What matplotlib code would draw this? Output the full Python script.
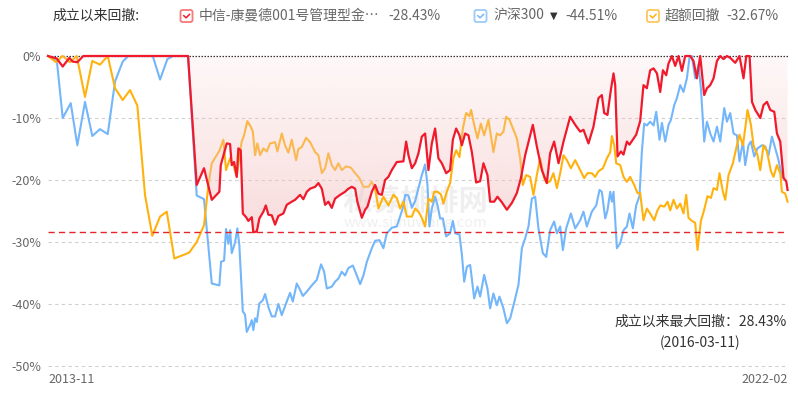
import matplotlib
matplotlib.use('Agg')
import matplotlib.pyplot as plt
import numpy as np
from matplotlib.patches import FancyBboxPatch, Polygon
from matplotlib.lines import Line2D
from matplotlib.transforms import IdentityTransform

plt.rcParams['font.family'] = ['Noto Sans CJK SC', 'DejaVu Sans']

# ---------------- data ----------------
title_label = '成立以来回撤:'
series_names = ['中信-康曼德001号管理型金…', '沪深300', '超额回撤']
series_maxdd = ['-28.43%', '-44.51%', '-32.67%']
x_labels = ['2013-11', '2022-02']
y_ticks = [0, -10, -20, -30, -40, -50]
max_dd_text = '成立以来最大回撤：28.43%'
max_dd_date = '(2016-03-11)'

fund_t = [2013.830, 2013.928, 2013.995, 2014.069, 2014.107, 2014.159, 2014.226, 2015.401,
          2015.498, 2015.580, 2015.667, 2015.752, 2015.768, 2015.835, 2015.872, 2015.891,
          2015.917, 2015.947, 2015.965, 2015.992, 2016.015, 2016.052, 2016.077, 2016.116,
          2016.133, 2016.172, 2016.201, 2016.246, 2016.273, 2016.302, 2016.340, 2016.377,
          2016.414, 2016.470, 2016.508, 2016.564, 2016.601, 2016.657, 2016.694, 2016.733,
          2016.770, 2016.826, 2016.863, 2016.901, 2016.938, 2016.975, 2017.013, 2017.050,
          2017.106, 2017.162, 2017.199, 2017.238, 2017.275, 2017.300, 2017.350, 2017.387,
          2017.413, 2017.462, 2017.499, 2017.536, 2017.574, 2017.611, 2017.648, 2017.686,
          2017.742, 2017.816, 2017.847, 2017.873, 2017.911, 2017.948, 2017.985, 2018.023,
          2018.060, 2018.097, 2018.135, 2018.172, 2018.209, 2018.247, 2018.296, 2018.340,
          2018.371, 2018.408, 2018.445, 2018.472, 2018.509, 2018.546, 2018.584, 2018.632,
          2018.677, 2018.714, 2018.759, 2018.789, 2018.834, 2018.871, 2018.921, 2018.977,
          2019.033, 2019.089, 2019.134, 2019.182, 2019.238, 2019.268, 2019.313, 2019.369,
          2019.425, 2019.462, 2019.507, 2019.556, 2019.612, 2019.687, 2019.743, 2019.799,
          2019.836, 2019.892, 2019.948, 2020.004, 2020.042, 2020.068, 2020.105, 2020.144,
          2020.173, 2020.192, 2020.218, 2020.256, 2020.285, 2020.323, 2020.352, 2020.390,
          2020.427, 2020.472, 2020.509, 2020.547, 2020.584, 2020.622, 2020.660, 2020.697,
          2020.727, 2020.764, 2020.790, 2020.828, 2020.865, 2020.902, 2020.940, 2020.977,
          2021.033, 2021.070, 2021.108, 2021.145, 2021.190, 2021.221, 2021.258, 2021.295,
          2021.333, 2021.370, 2021.407, 2021.445, 2021.482, 2021.538, 2021.586, 2021.631,
          2021.662, 2021.699, 2021.726, 2021.763, 2021.819, 2021.856, 2021.894, 2021.931,
          2021.976, 2022.006, 2022.043, 2022.080, 2022.110, 2022.125]
fund_dd = [0, -0.4, -1.7, -0.3, -0.9, -1.0, 0, 0,
           -20.8, -18.1, -23.2, -21.9, -17.6, -14.1, -14.2, -17.6,
           -17.1, -19.5, -14.9, -15.2, -25.4, -26.0, -26.6, -26.0,
           -28.43, -28.3, -26.2, -25.1, -24.1, -25.6, -25.7, -27.2,
           -25.8, -25.4, -24.0, -23.5, -23.2, -22.4, -23.1, -21.9,
           -21.4, -21.1, -20.5, -21.4, -24.0, -23.5, -24.5, -23.0,
           -22.4, -21.9, -21.4, -21.1, -21.4, -23.5, -26.1, -24.8,
           -24.3, -21.9, -20.8, -22.2, -22.4, -20.0, -19.5, -18.4,
           -17.1, -17.0, -13.8, -16.0, -18.1, -17.3, -15.7, -13.0,
           -12.5, -18.4, -14.1, -11.7, -16.5, -17.3, -18.9, -18.4,
           -13.5, -11.7, -12.8, -14.4, -12.5, -12.8, -15.5, -20.4,
           -20.2, -17.3, -19.2, -23.5, -23.5, -22.7, -23.6, -24.8,
           -23.7, -22.1, -19.7, -16.0, -12.8, -11.1, -14.6, -18.4,
           -20.5, -15.7, -13.8, -17.3, -13.8, -9.8, -11.1, -12.2,
           -11.9, -14.1, -11.4, -6.8, -6.3, -9.2, -9.5, -5.4,
           -2.8, -4.7, -16.2, -15.4, -15.9, -13.8, -14.3, -13.5,
           -12.7, -10.5, -4.7, -5.2, -2.3, -2.0, -2.8, -5.8,
           -2.3, -3.1, -1.2, 0, -1.6, 0, -2.4, 0,
           0, -0.8, -3.6, 0, -6.3, -5.2, -4.7, -3.6,
           -0.8, 0, -0.5, 0, -0.3, -1.1, 0, -3.6,
           0, 0, -7.4, -8.7, -10.0, -7.9, -7.4, -8.7,
           -9.0, -12.5, -13.8, -19.7, -20.2, -21.6]

hs300_t = [2013.830, 2013.928, 2013.995, 2014.085, 2014.159, 2014.245, 2014.327, 2014.413,
           2014.500, 2014.582, 2014.668, 2014.731, 2015.005, 2015.087, 2015.169, 2015.233,
           2015.401, 2015.498, 2015.580, 2015.667, 2015.752, 2015.771, 2015.805, 2015.827,
           2015.853, 2015.872, 2015.891, 2015.928, 2015.954, 2015.976, 2016.015, 2016.040,
           2016.059, 2016.096, 2016.116, 2016.133, 2016.153, 2016.172, 2016.201, 2016.239,
           2016.265, 2016.302, 2016.340, 2016.377, 2016.414, 2016.452, 2016.508, 2016.545,
           2016.576, 2016.620, 2016.657, 2016.688, 2016.733, 2016.789, 2016.845, 2016.893,
           2016.927, 2016.957, 2017.013, 2017.050, 2017.087, 2017.125, 2017.162, 2017.199,
           2017.249, 2017.294, 2017.331, 2017.368, 2017.406, 2017.462, 2017.499, 2017.547,
           2017.592, 2017.630, 2017.686, 2017.742, 2017.779, 2017.810, 2017.836, 2017.873,
           2017.911, 2017.948, 2017.985, 2018.023, 2018.060, 2018.086, 2018.108, 2018.135,
           2018.172, 2018.198, 2018.228, 2018.259, 2018.296, 2018.340, 2018.371, 2018.397,
           2018.445, 2018.472, 2018.498, 2018.528, 2018.565, 2018.584, 2018.610, 2018.647,
           2018.677, 2018.722, 2018.759, 2018.789, 2018.826, 2018.864, 2018.894, 2018.938,
           2018.977, 2019.014, 2019.051, 2019.107, 2019.145, 2019.182, 2019.219, 2019.257,
           2019.294, 2019.331, 2019.380, 2019.418, 2019.462, 2019.507, 2019.538, 2019.575,
           2019.605, 2019.642, 2019.695, 2019.743, 2019.799, 2019.836, 2019.874, 2019.930,
           2019.979, 2020.016, 2020.042, 2020.080, 2020.105, 2020.136, 2020.155, 2020.173,
           2020.211, 2020.248, 2020.285, 2020.323, 2020.352, 2020.390, 2020.427, 2020.464,
           2020.491, 2020.517, 2020.547, 2020.584, 2020.622, 2020.652, 2020.689, 2020.716,
           2020.753, 2020.790, 2020.817, 2020.854, 2020.884, 2020.921, 2020.958, 2020.996,
           2021.025, 2021.052, 2021.089, 2021.126, 2021.153, 2021.190, 2021.221, 2021.258,
           2021.295, 2021.333, 2021.370, 2021.415, 2021.445, 2021.482, 2021.519, 2021.557,
           2021.586, 2021.625, 2021.650, 2021.687, 2021.714, 2021.751, 2021.788, 2021.838,
           2021.875, 2021.912, 2021.950, 2021.987, 2022.024, 2022.062, 2022.088]
hs300_dd = [0, -0.6, -10.0, -7.6, -14.4, -7.4, -12.9, -11.8,
            -12.6, -4.1, -0.9, 0, 0, -3.8, -0.5, 0,
            0, -22.5, -23.1, -36.7, -37.0, -33.2, -33.0, -27.9,
            -30.3, -28.1, -31.8, -30.1, -27.8, -30.5, -41.2, -41.7,
            -44.51, -43.4, -42.6, -44.2, -42.3, -42.9, -39.9, -39.4,
            -38.4, -40.5, -42.0, -42.0, -40.0, -41.8, -39.6, -38.2,
            -39.6, -36.7, -37.7, -38.7, -38.0, -37.0, -36.1, -33.6,
            -34.8, -37.5, -37.2, -36.4, -35.9, -34.8, -35.4, -34.2,
            -33.8, -35.4, -36.8, -35.4, -33.2, -31.0, -29.8, -29.7,
            -31.0, -28.6, -27.7, -27.5, -25.9, -24.5, -22.4, -22.5,
            -24.5, -23.4, -21.3, -19.2, -17.5, -20.8, -27.5, -24.6,
            -22.7, -24.0, -26.2, -26.2, -29.1, -28.6, -26.6, -28.6,
            -28.8, -32.0, -36.4, -34.0, -33.7, -35.9, -39.1, -37.2,
            -38.8, -35.3, -37.5, -40.7, -38.3, -40.2, -38.8, -40.7,
            -43.1, -42.3, -40.2, -36.9, -31.0, -29.4, -27.5, -23.0,
            -22.7, -27.8, -31.8, -32.4, -28.1, -26.7, -28.6, -27.5,
            -31.3, -27.8, -25.4, -27.8, -26.5, -25.1, -27.5, -25.1,
            -24.1, -21.6, -21.9, -26.2, -24.9, -21.9, -23.5, -21.9,
            -31.0, -30.2, -28.1, -27.5, -25.4, -27.8, -24.1, -22.6,
            -15.4, -10.9, -11.2, -10.6, -11.2, -9.0, -13.5, -10.8,
            -13.8, -11.1, -10.3, -7.9, -6.8, -4.7, -5.8, -3.6,
            -0.3, 0, -3.6, -1.4, -5.2, -13.8, -10.6, -12.5,
            -13.8, -11.4, -13.8, -8.4, -10.6, -9.2, -12.5, -12.8,
            -17.0, -13.8, -17.6, -14.4, -13.8, -16.2, -14.9, -14.4,
            -14.6, -16.0, -13.0, -14.9, -16.8, -19.5, -19.7]

excess_t = [2013.830, 2013.920, 2013.995, 2014.077, 2014.152, 2014.245, 2014.327, 2014.413,
            2014.500, 2014.582, 2014.668, 2014.750, 2014.832, 2014.918, 2015.000, 2015.087,
            2015.162, 2015.247, 2015.415, 2015.498, 2015.580, 2015.629, 2015.667, 2015.752,
            2015.797, 2015.827, 2015.872, 2015.909, 2015.947, 2015.984, 2016.003, 2016.029,
            2016.066, 2016.104, 2016.127, 2016.153, 2016.178, 2016.209, 2016.246, 2016.284,
            2016.321, 2016.377, 2016.403, 2016.452, 2016.489, 2016.526, 2016.564, 2016.613,
            2016.638, 2016.676, 2016.725, 2016.770, 2016.826, 2016.863, 2016.901, 2016.938,
            2016.975, 2017.013, 2017.050, 2017.087, 2017.125, 2017.174, 2017.226, 2017.275,
            2017.323, 2017.368, 2017.424, 2017.462, 2017.499, 2017.536, 2017.592, 2017.648,
            2017.704, 2017.742, 2017.779, 2017.816, 2017.855, 2017.911, 2017.948, 2017.985,
            2018.023, 2018.060, 2018.097, 2018.135, 2018.161, 2018.198, 2018.236, 2018.265,
            2018.303, 2018.340, 2018.377, 2018.408, 2018.445, 2018.483, 2018.520, 2018.557,
            2018.576, 2018.610, 2018.647, 2018.685, 2018.722, 2018.770, 2018.826, 2018.864,
            2018.901, 2018.938, 2018.969, 2019.006, 2019.051, 2019.089, 2019.126, 2019.156,
            2019.193, 2019.238, 2019.275, 2019.313, 2019.350, 2019.395, 2019.425, 2019.462,
            2019.499, 2019.538, 2019.575, 2019.612, 2019.650, 2019.695, 2019.743, 2019.799,
            2019.844, 2019.881, 2019.930, 2019.967, 2020.004, 2020.054, 2020.099, 2020.136,
            2020.155, 2020.181, 2020.203, 2020.248, 2020.285, 2020.323, 2020.360, 2020.405,
            2020.442, 2020.472, 2020.509, 2020.547, 2020.584, 2020.629, 2020.666, 2020.697,
            2020.742, 2020.779, 2020.809, 2020.846, 2020.884, 2020.921, 2020.958, 2020.988,
            2021.014, 2021.052, 2021.089, 2021.115, 2021.153, 2021.190, 2021.227, 2021.266,
            2021.295, 2021.333, 2021.362, 2021.400, 2021.426, 2021.463, 2021.512, 2021.549,
            2021.586, 2021.625, 2021.650, 2021.676, 2021.714, 2021.743, 2021.788, 2021.819,
            2021.856, 2021.894, 2021.939, 2021.968, 2022.006, 2022.043, 2022.062, 2022.099,
            2022.125]
excess_dd = [0, -1.0, 0, -1.0, 0, -6.6, -0.8, -1.4,
             0, -5.2, -7.1, -5.5, -8.0, -22.4, -29.0, -25.9,
             -25.1, -32.67, -31.7, -30.0, -27.3, -20.8, -17.3, -15.3,
             -13.5, -18.4, -16.5, -17.6, -19.5, -15.4, -13.8, -12.8,
             -10.5, -11.4, -12.2, -16.0, -14.1, -16.0, -14.9, -15.4,
             -14.1, -13.9, -15.4, -12.5, -14.4, -15.6, -13.5, -16.8,
             -15.0, -14.7, -13.2, -13.9, -15.5, -16.0, -18.9, -18.1,
             -15.7, -17.6, -18.4, -17.3, -18.4, -17.8, -18.0, -18.9,
             -19.7, -21.1, -21.1, -20.3, -21.4, -24.6, -22.7, -24.1,
             -22.4, -22.9, -24.6, -23.5, -25.9, -25.9, -24.6, -25.1,
             -26.1, -27.5, -23.0, -23.5, -21.9, -21.9, -22.3, -23.8,
             -21.9, -20.5, -16.5, -15.2, -16.3, -11.7, -9.2, -9.7,
             -8.7, -11.1, -13.3, -10.9, -12.8, -10.3, -15.5, -12.5,
             -12.8, -12.2, -9.8, -10.3, -11.9, -13.3, -16.5, -20.8,
             -19.2, -19.5, -22.4, -19.2, -16.5, -19.7, -20.5, -20.2,
             -18.9, -21.3, -18.9, -16.0, -16.8, -18.1, -16.8, -18.4,
             -19.7, -18.9, -18.9, -19.5, -18.6, -18.1, -16.5, -15.5,
             -12.9, -14.4, -17.3, -17.6, -19.5, -20.3, -19.5, -20.8,
             -22.1, -22.1, -26.5, -24.6, -25.4, -26.5, -24.9, -24.1,
             -24.3, -23.5, -24.9, -23.2, -24.6, -23.8, -25.4, -22.4,
             -26.1, -26.6, -26.9, -31.3, -26.6, -24.8, -22.6, -22.9,
             -21.3, -21.6, -18.9, -21.9, -23.2, -19.2, -17.3, -14.9,
             -12.7, -14.4, -11.7, -8.7, -11.1, -14.4, -16.0, -18.4,
             -14.4, -15.4, -18.6, -19.5, -17.6, -18.9, -21.9, -22.2,
             -23.5]

# ---------------- styles ----------------
RED = '#f01a2c'
BLUE = '#74b6fa'
YELLOW = '#ffb20e'
W, H = 798, 395

fig = plt.figure(figsize=(W / 100, H / 100), dpi=100)
ax = fig.add_axes([48 / W, 1 - 366 / H, 740 / W, 310 / H])

xmin, xmax = fund_t[0], 2022.13

# watermark
ax.text(0.496, 0.529, '私募排排网', transform=ax.transAxes, ha='center', va='center',
        fontsize=21, fontweight='bold', color='#888888', alpha=0.13, zorder=1)
ax.text(0.496, 0.461, 'www.simuwang.com', transform=ax.transAxes, ha='center', va='center',
        fontsize=10.5, color='#888888', alpha=0.13, zorder=1)

# grid
for v in y_ticks[1:]:
    ax.axhline(v, color='#cfcfcf', lw=0.8, ls=(0, (3, 3)), zorder=0.5, clip_on=False)
ax.axhline(0, color='#222222', lw=0.9, ls=(0, (1.2, 1.2)), zorder=1, clip_on=False)

# benchmark & excess lines
ax.plot(hs300_t, hs300_dd, color=BLUE, lw=1.5, zorder=2, clip_on=False, solid_joinstyle='round')
ax.plot(excess_t, excess_dd, color=YELLOW, lw=1.5, zorder=2.5, clip_on=False, solid_joinstyle='round')

# gradient fill for fund drawdown
poly = Polygon(np.column_stack([[fund_t[0]] + fund_t + [fund_t[-1]], [0] + fund_dd + [0]]),
               closed=True, transform=ax.transData, facecolor='none', edgecolor='none')
ax.add_patch(poly)
frac = np.linspace(0, 1, 256)
alpha = np.clip(0.12 + 0.5 * frac * 50 / 30, 0, 0.62)
img = np.zeros((256, 1, 4))
img[..., 0] = 245 / 255
img[..., 1] = 196 / 255
img[..., 2] = 196 / 255
img[..., 3] = alpha[:, None]
im = ax.imshow(img, extent=[xmin, xmax, -50, 0], aspect='auto', origin='upper', zorder=3,
               interpolation='bilinear')
im.set_clip_path(poly)

ax.plot(fund_t, fund_dd, color=RED, lw=1.6, zorder=4, clip_on=False, solid_joinstyle='round')

# max drawdown line
ax.axhline(min(fund_dd), color='#e4262c', lw=1.0, ls=(0, (4.5, 3)), zorder=3.5)

ax.set_xlim(xmin, xmax)
ax.set_ylim(-50, 0)
ax.set_yticks(y_ticks)
ax.set_yticklabels([f'{v}%' for v in y_ticks])
ax.set_xticks([])
ax.tick_params(axis='y', length=0, pad=5, labelcolor='#666666', labelsize=9)
for s in ax.spines.values():
    s.set_visible(False)

ax.text(0.0, -0.045, x_labels[0], transform=ax.transAxes, ha='left', va='center',
        fontsize=9, color='#666666')
ax.text(1.0, -0.045, x_labels[1], transform=ax.transAxes, ha='right', va='center',
        fontsize=9, color='#666666')

# annotation
fig.text(787 / W, 1 - 322 / H, max_dd_text, ha='right', va='center', fontsize=10, color='#333333')
fig.text(700 / W, 1 - 343 / H, max_dd_date, ha='center', va='center', fontsize=10, color='#333333')

# legend
ly = 1 - 16 / H
fig.text(52 / W, ly, title_label, ha='left', va='center', fontsize=10, color='#333333')

def checkbox(x_px, color, edge):
    y_disp = H - 22
    box = FancyBboxPatch((x_px, y_disp), 12, 12, boxstyle='round,pad=0,rounding_size=2',
                         transform=IdentityTransform(), facecolor='white', edgecolor=edge,
                         lw=1.3)
    fig.patches.append(box)
    cx, cy = x_px, y_disp
    fig.lines.append(Line2D([cx + 3.3, cx + 5.6, cx + 9], [cy + 6.3, cy + 4.2, cy + 7.6],
                            transform=IdentityTransform(), color=color, lw=1.1))

checkbox(180.5, RED, '#f27b7b')
fig.text(199 / W, ly, series_names[0], ha='left', va='center', fontsize=10, color='#666666')
fig.text(388 / W, ly, series_maxdd[0], ha='left', va='center', fontsize=10, color='#666666')

checkbox(474.5, BLUE, '#9ccbf8')
fig.text(493 / W, ly, series_names[1], ha='left', va='center', fontsize=10, color='#666666')
fig.text(553.5 / W, ly, '▼', ha='center', va='center', fontsize=7, color='#333333',
         family=['DejaVu Sans'])
fig.text(565 / W, ly, series_maxdd[1], ha='left', va='center', fontsize=10, color='#666666')

checkbox(647, YELLOW, '#fcc75e')
fig.text(665 / W, ly, series_names[2], ha='left', va='center', fontsize=10, color='#666666')
fig.text(726 / W, ly, series_maxdd[2], ha='left', va='center', fontsize=10, color='#666666')

fig.savefig('out.png', dpi=100)
